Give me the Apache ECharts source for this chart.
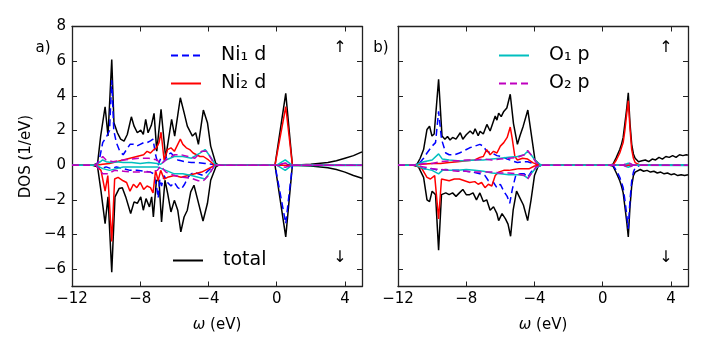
<!DOCTYPE html>
<html>
<head>
<meta charset="utf-8">
<title>DOS</title>
<script src="https://cdn.jsdelivr.net/npm/echarts@6/dist/echarts.min.js"></script>
<style>
  body { margin: 0; background: #fff; }
  #chart { width: 706px; height: 353px; }
</style>
</head>
<body>
<div id="chart"></div>
<script type="text/javascript">
// 刻度
var xTicks = [-12, -8, -4, 0, 4];
var yTicks = [-6, -4, -2, 0, 2, 4, 6, 8];

// a) 左图: Ni d 与 total
var aTotalUp = [[-12,0],[-10.8,0],[-10.5,0.1],[-10.32,1.68],[-10.06,3.37],[-9.89,1.68],[-9.67,6.1],[-9.54,2.45],[-9.34,1.87],[-9.15,1.5],[-8.95,1.39],[-8.76,1.77],[-8.52,2.79],[-8.36,2.25],[-8.17,1.87],[-7.97,2.02],[-7.82,1.77],[-7.68,2.64],[-7.54,1.87],[-7.35,2.3],[-7.19,2.99],[-7.03,0.81],[-6.78,3.22],[-6.51,0.42],[-6.16,2.64],[-5.98,1.68],[-5.65,3.89],[-5.43,3.03],[-5.24,2.25],[-4.94,1.68],[-4.75,1.87],[-4.59,1.2],[-4.3,3.18],[-4.06,2.45],[-3.87,1.1],[-3.57,0.1],[-3.4,0],[-0.1,0],[0.53,4.14],[0.92,0],[2,0.05],[3,0.15],[3.5,0.25],[4,0.4],[4.5,0.55],[5,0.77]];
var aTotalDn = [[-12,0],[-10.8,0],[-10.5,-0.1],[-10.3,-1.5],[-10.06,-3.37],[-9.89,-1.83],[-9.67,-6.17],[-9.48,-1.83],[-9.24,-1.35],[-9.05,-1.3],[-8.85,-1.83],[-8.56,-2.79],[-8.36,-2.12],[-8.17,-2.2],[-7.97,-1.83],[-7.82,-2.6],[-7.66,-1.93],[-7.46,-2.41],[-7.33,-1.83],[-7.23,-2.99],[-7.05,-0.87],[-6.9,-0.9],[-6.75,-3.28],[-6.55,-0.87],[-6.39,-1.64],[-6.2,-2.7],[-6.0,-2.03],[-5.8,-2.6],[-5.62,-3.85],[-5.43,-2.99],[-5.24,-2.6],[-5.04,-1.54],[-4.85,-1.16],[-4.65,-1.93],[-4.32,-3.22],[-4.06,-2.2],[-3.87,-0.87],[-3.57,-0.1],[-3.4,0],[-0.1,0],[0.53,-4.14],[0.92,0],[2,-0.05],[3,-0.15],[3.5,-0.25],[4,-0.4],[4.5,-0.6],[5,-0.75]];
var aNi1Up = [[-12,0],[-10.6,0],[-10.4,0.3],[-10.2,1.3],[-10.0,1.6],[-9.8,2.0],[-9.67,4.9],[-9.55,2.0],[-9.4,1.3],[-9.2,0.8],[-9.0,0.6],[-8.8,0.9],[-8.6,1.2],[-8.4,1.2],[-8.2,1.1],[-8.0,1.2],[-7.8,1.3],[-7.6,1.3],[-7.4,1.4],[-7.25,1.5],[-7.1,0.6],[-6.95,0.0],[-6.8,0.4],[-6.6,0.2],[-6.4,0.6],[-6.2,0.7],[-6.0,0.5],[-5.8,0.3],[-5.6,0.25],[-5.4,0.2],[-5.0,0.15],[-4.6,0.15],[-4.2,0.1],[-3.8,0.05],[-3.6,0],[0,0],[0.53,0.05],[1,0],[5,0]];
var aNi1Dn = [[-12,0],[-10.6,0],[-10.3,-0.2],[-10.0,-0.1],[-9.7,-0.2],[-9.4,-0.1],[-9.0,-0.2],[-8.6,-0.3],[-8.2,-0.3],[-7.8,-0.35],[-7.4,-0.4],[-7.2,-0.5],[-7.05,-1.2],[-6.95,-1.9],[-6.85,-0.8],[-6.75,-1.2],[-6.6,-0.6],[-6.4,-1.0],[-6.2,-1.2],[-6.0,-1.0],[-5.8,-1.3],[-5.6,-1.4],[-5.4,-1.1],[-5.2,-0.7],[-5.0,-0.5],[-4.8,-0.4],[-4.6,-0.5],[-4.3,-0.6],[-4.0,-0.3],[-3.7,-0.05],[-3.5,0],[-0.1,0],[0.53,-3.37],[0.92,0],[5,0]];
var aNi2Up = [[-12,0],[-10.6,0],[-10.2,0.05],[-9.8,0.1],[-9.4,0.2],[-9.0,0.3],[-8.6,0.4],[-8.2,0.5],[-7.8,0.6],[-7.6,0.8],[-7.4,0.7],[-7.2,0.9],[-7.05,1.0],[-6.9,1.3],[-6.78,1.9],[-6.6,0.3],[-6.4,0.9],[-6.2,1.0],[-6.0,0.8],[-5.8,1.2],[-5.65,1.5],[-5.5,1.2],[-5.3,1.0],[-5.1,0.9],[-4.9,0.7],[-4.7,0.6],[-4.5,0.5],[-4.3,0.5],[-4.0,0.3],[-3.7,0.05],[-3.5,0],[-0.1,0],[0.53,3.37],[0.92,0],[5,0]];
var aNi2Dn = [[-12,0],[-10.6,0],[-10.3,-0.3],[-10.06,-1.5],[-9.9,-0.6],[-9.67,-4.4],[-9.5,-0.8],[-9.3,-0.7],[-9.0,-0.9],[-8.8,-1.0],[-8.6,-1.5],[-8.4,-1.1],[-8.2,-1.3],[-8.0,-1.0],[-7.8,-1.4],[-7.6,-1.2],[-7.4,-1.3],[-7.25,-1.6],[-7.1,-0.3],[-6.95,-0.9],[-6.8,-0.3],[-6.6,-0.8],[-6.4,-0.7],[-6.0,-0.6],[-5.6,-0.7],[-5.2,-0.6],[-4.8,-0.5],[-4.4,-0.4],[-4.0,-0.2],[-3.7,-0.05],[-3.5,0],[5,0]];
var aO1Up = [[-12,0],[-10.6,0],[-10.2,0.3],[-10,0.2],[-9.7,0.15],[-9.4,0.2],[-9,0.15],[-8.5,0.15],[-8,0.1],[-7.5,0.15],[-7,0.1],[-6.8,0.05],[-6.5,0.3],[-6,0.5],[-5.5,0.5],[-5,0.4],[-4.5,0.7],[-4.2,0.9],[-3.9,0.5],[-3.6,0.05],[-3.4,0],[0,0],[0.5,0.3],[0.9,0],[5,0.02]];
var aO1Dn = [[-12,0],[-10.6,0],[-10.2,-0.2],[-9.8,-0.3],[-9.4,-0.2],[-9,-0.1],[-8,-0.1],[-7,-0.1],[-6.5,-0.3],[-6,-0.5],[-5.5,-0.5],[-5,-0.6],[-4.6,-0.7],[-4.2,-0.8],[-3.9,-0.4],[-3.6,0],[0,0],[0.5,-0.3],[0.9,0],[5,-0.02]];
var aO2Up = [[-12,0],[-10.6,0],[-10.2,0.5],[-10,0.3],[-9.6,0.2],[-9,0.3],[-8.5,0.35],[-8,0.4],[-7.5,0.4],[-7,0.3],[-6.8,0.05],[-6.5,0.3],[-6,0.6],[-5.6,0.6],[-5.2,0.5],[-4.8,0.4],[-4.4,0.8],[-4.1,0.8],[-3.8,0.3],[-3.6,0],[0,0],[0.5,0.12],[0.9,0],[5,0]];
var aO2Dn = [[-12,0],[-10.6,0],[-10.2,-0.5],[-9.9,-0.5],[-9.5,-0.3],[-9,-0.35],[-8.5,-0.4],[-8,-0.4],[-7.5,-0.4],[-7,-0.3],[-6.8,-0.05],[-6.5,-0.4],[-6,-0.6],[-5.5,-0.7],[-5,-0.75],[-4.6,-0.9],[-4.3,-0.9],[-4,-0.6],[-3.7,-0.1],[-3.5,0],[0,0],[0.5,-0.12],[0.9,0],[5,0]];

// b) 右图: O p
var bTotalUp = [[-12,0],[-11.1,0],[-10.89,0.05],[-10.7,0.4],[-10.5,0.9],[-10.3,2.06],[-10.15,2.25],[-10.01,1.68],[-9.88,1.8],[-9.62,4.95],[-9.42,1.68],[-9.25,1.5],[-9.1,1.65],[-8.95,1.45],[-8.8,1.6],[-8.6,1.5],[-8.35,1.87],[-8.2,1.5],[-8.0,1.75],[-7.77,1.97],[-7.6,1.8],[-7.48,2.1],[-7.3,1.7],[-7.19,1.95],[-7.0,1.8],[-6.79,2.35],[-6.6,1.97],[-6.45,2.4],[-6.3,2.83],[-6.2,2.6],[-6.1,3.0],[-5.95,2.8],[-5.8,3.1],[-5.62,3.3],[-5.42,4.09],[-5.23,2.4],[-5.0,1.2],[-4.85,1.7],[-4.66,2.25],[-4.39,3.18],[-4.16,1.6],[-3.97,0.3],[-3.68,0.02],[-3.4,0],[0.4,0],[0.6,0.05],[0.8,0.45],[1.0,0.9],[1.1,1.2],[1.2,1.6],[1.3,2.4],[1.4,3.2],[1.5,4.18],[1.6,2.4],[1.7,1.2],[1.8,0.65],[1.9,0.4],[2.0,0.3],[2.1,0.2],[2.3,0.25],[2.5,0.3],[2.7,0.2],[2.9,0.35],[3.1,0.3],[3.3,0.45],[3.5,0.35],[3.7,0.5],[3.9,0.45],[4.1,0.55],[4.3,0.45],[4.5,0.6],[4.7,0.55],[4.9,0.6],[5.0,0.58]];
var bTotalDn = [[-12,0],[-11.1,0],[-10.8,-0.1],[-10.5,-0.7],[-10.3,-2.0],[-10.15,-2.1],[-10.0,-1.5],[-9.8,-1.7],[-9.62,-4.9],[-9.45,-1.7],[-9.2,-1.6],[-9.0,-1.7],[-8.8,-1.6],[-8.6,-1.8],[-8.4,-1.6],[-8.2,-1.4],[-8.0,-1.7],[-7.8,-1.7],[-7.6,-1.6],[-7.4,-2.0],[-7.2,-1.6],[-7.0,-2.1],[-6.8,-2.0],[-6.6,-2.6],[-6.4,-2.4],[-6.2,-2.8],[-6.1,-3.2],[-5.9,-2.8],[-5.7,-3.1],[-5.55,-3.4],[-5.4,-4.1],[-5.25,-2.6],[-5.05,-1.5],[-4.85,-1.9],[-4.65,-2.3],[-4.4,-3.2],[-4.2,-2.0],[-4.0,-0.6],[-3.8,-0.1],[-3.6,0],[0.4,0],[0.6,-0.05],[0.8,-0.45],[1.0,-0.9],[1.1,-1.2],[1.2,-1.6],[1.3,-2.4],[1.4,-3.2],[1.5,-4.14],[1.6,-2.4],[1.7,-1.2],[1.8,-0.6],[1.9,-0.4],[2.0,-0.3],[2.2,-0.25],[2.4,-0.35],[2.6,-0.3],[2.8,-0.4],[3.0,-0.35],[3.2,-0.45],[3.4,-0.4],[3.6,-0.5],[3.8,-0.45],[4.0,-0.55],[4.2,-0.5],[4.4,-0.6],[4.6,-0.55],[4.8,-0.6],[5.0,-0.55]];
var bNi1Up = [[-12,0],[-11,0],[-10.8,0.05],[-10.5,0.4],[-10.3,0.7],[-10.0,1.1],[-9.8,1.3],[-9.62,3.1],[-9.45,1.5],[-9.2,0.7],[-9.0,0.6],[-8.7,0.6],[-8.4,0.7],[-8.1,0.85],[-7.8,1.0],[-7.5,1.1],[-7.2,1.2],[-7.0,1.1],[-6.8,0.8],[-6.5,0.7],[-6.2,0.55],[-5.9,0.5],[-5.6,0.35],[-5.3,0.25],[-5.0,0.15],[-4.7,0.2],[-4.4,0.2],[-4.1,0.1],[-3.8,0.02],[-3.6,0],[5,0]];
var bNi1Dn = [[-12,0],[-11,0],[-10.5,-0.2],[-10,-0.2],[-9.62,-0.3],[-9.2,-0.25],[-8.8,-0.3],[-8.4,-0.3],[-8,-0.35],[-7.6,-0.4],[-7.2,-0.5],[-6.9,-0.6],[-6.7,-0.9],[-6.4,-1.0],[-6.2,-1.3],[-6.0,-1.1],[-5.8,-1.5],[-5.6,-1.8],[-5.45,-2.2],[-5.3,-1.4],[-5.1,-0.6],[-4.9,-0.5],[-4.6,-0.5],[-4.4,-0.7],[-4.2,-0.4],[-3.9,-0.1],[-3.6,0],[0.6,0],[0.8,-0.3],[1.0,-0.7],[1.2,-1.3],[1.3,-2.0],[1.4,-2.8],[1.5,-3.66],[1.6,-2.0],[1.7,-0.9],[1.8,-0.4],[1.9,-0.15],[2.0,-0.05],[2.2,0],[5,0]];
var bNi2Up = [[-12,0],[-11,0],[-10.6,0.05],[-10,0.1],[-9.5,0.1],[-9,0.15],[-8.5,0.2],[-8,0.25],[-7.5,0.3],[-7.2,0.45],[-7.0,0.5],[-6.8,0.9],[-6.6,0.6],[-6.4,0.8],[-6.2,0.7],[-6.0,1.1],[-5.8,1.3],[-5.6,1.6],[-5.42,2.2],[-5.3,1.5],[-5.15,0.5],[-5.0,0.3],[-4.7,0.4],[-4.4,0.35],[-4.1,0.15],[-3.8,0.02],[-3.6,0],[0.6,0],[0.8,0.3],[1.0,0.7],[1.2,1.3],[1.3,2.0],[1.4,2.9],[1.5,3.72],[1.6,2.1],[1.7,0.9],[1.8,0.4],[1.9,0.15],[2.0,0.05],[2.2,0],[5,0]];
var bNi2Dn = [[-12,0],[-11,0],[-10.6,-0.2],[-10.3,-0.7],[-10.1,-0.8],[-9.85,-0.6],[-9.62,-3.1],[-9.45,-0.8],[-9.2,-0.85],[-9.0,-0.9],[-8.7,-0.8],[-8.4,-0.8],[-8.1,-0.9],[-7.8,-1.0],[-7.5,-0.95],[-7.3,-1.1],[-7.1,-1.0],[-6.9,-1.3],[-6.7,-1.1],[-6.5,-1.2],[-6.3,-0.6],[-6.1,-0.4],[-5.8,-0.3],[-5.5,-0.3],[-5.2,-0.25],[-4.9,-0.2],[-4.6,-0.2],[-4.3,-0.2],[-4.0,-0.05],[-3.6,0],[5,0]];
var bO1Up = [[-12,0],[-11,0],[-10.5,0.2],[-10,0.3],[-9.62,0.65],[-9.4,0.35],[-9,0.3],[-8.5,0.25],[-8,0.25],[-7.5,0.3],[-7,0.3],[-6.5,0.35],[-6,0.4],[-5.5,0.45],[-5.0,0.5],[-4.6,0.6],[-4.4,0.8],[-4.2,0.6],[-3.9,0.2],[-3.6,0],[1.2,0],[1.5,0.12],[1.8,0],[5,0.02]];
var bO1Dn = [[-12,0],[-11,0],[-10.5,-0.2],[-10,-0.3],[-9.62,-0.5],[-9.4,-0.3],[-9,-0.3],[-8.5,-0.3],[-8,-0.25],[-7.5,-0.3],[-7,-0.35],[-6.5,-0.45],[-6,-0.5],[-5.5,-0.55],[-5.0,-0.55],[-4.6,-0.6],[-4.4,-0.75],[-4.2,-0.5],[-3.9,-0.15],[-3.6,0],[1.2,0],[1.5,-0.12],[1.8,0],[5,-0.02]];
var bO2Up = [[-12,0],[-11,0],[-10.5,0.1],[-10,0.1],[-9.5,0.2],[-9,0.25],[-8.5,0.25],[-8,0.3],[-7.5,0.3],[-7,0.35],[-6.5,0.3],[-6,0.35],[-5.5,0.4],[-5.0,0.45],[-4.6,0.6],[-4.4,0.85],[-4.2,0.6],[-3.9,0.15],[-3.6,0],[1.2,0],[1.5,0.15],[1.8,0],[5,0]];
var bO2Dn = [[-12,0],[-11,0],[-10.5,-0.1],[-10,-0.2],[-9.5,-0.25],[-9,-0.3],[-8.5,-0.35],[-8,-0.35],[-7.5,-0.4],[-7,-0.4],[-6.5,-0.4],[-6,-0.45],[-5.5,-0.45],[-5.0,-0.5],[-4.6,-0.6],[-4.4,-0.8],[-4.2,-0.5],[-3.9,-0.1],[-3.6,0],[1.2,0],[1.5,-0.15],[1.8,0],[5,0]];

var FONT = 'DejaVu Sans';
var minus = function (v) { return String(v).replace('-', '\u2212'); };

function line(name, data, idx, color, dashed) {
  return {
    name: name, type: 'line', data: data,
    xAxisIndex: idx * 2, yAxisIndex: idx * 2,
    symbol: 'none', showSymbol: false, animation: false, silent: true,
    lineStyle: { width: 1.5, color: color, type: dashed ? [7, 4] : 'solid' },
    itemStyle: { color: color }
  };
}

function xAxes(g) {
  var base = {
    gridIndex: g, type: 'value', min: -12, max: 5, interval: 4,
    splitLine: { show: false },
    axisLine: { onZero: false, lineStyle: { color: '#222', width: 1.3 } },
    axisTick: { inside: true, length: 5, customValues: xTicks, lineStyle: { color: '#222' } }
  };
  return [
    Object.assign({}, base, {
      position: 'bottom',
      name: '{i|ω} (eV)', nameLocation: 'middle', nameGap: 31,
      nameTextStyle: { fontFamily: FONT, fontSize: 15, color: '#000',
        rich: { i: { fontFamily: FONT, fontStyle: 'italic', fontSize: 15, color: '#000' } } },
      axisLabel: { margin: 5, customValues: xTicks, fontFamily: FONT, fontSize: 15, color: '#000', formatter: minus }
    }),
    Object.assign({}, base, { position: 'top', axisLabel: { show: false } })
  ];
}

function yAxes(g, labels) {
  var base = {
    gridIndex: g, type: 'value', min: -7, max: 8,
    splitLine: { show: false },
    axisLine: { onZero: false, lineStyle: { color: '#222', width: 1.3 } },
    axisTick: { inside: true, length: 5, customValues: yTicks, lineStyle: { color: '#222' } }
  };
  var left = Object.assign({}, base, {
    position: 'left',
    axisLabel: { show: labels, customValues: yTicks, margin: 6, fontFamily: FONT, fontSize: 15, color: '#000', formatter: minus }
  });
  if (labels) {
    left.name = 'DOS (1/eV)';
    left.nameLocation = 'middle';
    left.nameGap = 38;
    left.nameTextStyle = { fontFamily: FONT, fontSize: 15, color: '#000' };
  }
  var right = Object.assign({}, base, { position: 'right', axisLabel: { show: false } });
  return [left, right];
}

var series = [];
var panels = [
  [aTotalUp, aTotalDn, aNi1Up, aNi1Dn, aNi2Up, aNi2Dn, aO1Up, aO1Dn, aO2Up, aO2Dn],
  [bTotalUp, bTotalDn, bNi1Up, bNi1Dn, bNi2Up, bNi2Dn, bO1Up, bO1Dn, bO2Up, bO2Dn]
];
panels.forEach(function (p, i) {
  series.push(line('total', p[0], i, '#000000', false));
  series.push(line('total', p[1], i, '#000000', false));
  series.push(line('Ni\u2081 d', p[2], i, '#0000ff', true));
  series.push(line('Ni\u2081 d', p[3], i, '#0000ff', true));
  series.push(line('Ni\u2082 d', p[4], i, '#ff0000', false));
  series.push(line('Ni\u2082 d', p[5], i, '#ff0000', false));
  series.push(line('O\u2081 p', p[6], i, '#00bfbf', false));
  series.push(line('O\u2081 p', p[7], i, '#00bfbf', false));
  series.push(line('O\u2082 p', p[8], i, '#bf00bf', true));
  series.push(line('O\u2082 p', p[9], i, '#bf00bf', true));
});

function legend(names, left, top) {
  return {
    data: names, left: left, top: top, orient: 'vertical',
    itemWidth: 30, itemHeight: 20, itemGap: 9, selectedMode: false,
    itemStyle: { color: 'rgba(0,0,0,0)', borderWidth: 0, opacity: 0 },
    textStyle: { fontFamily: FONT, fontSize: 19, color: '#000', padding: [0, 0, 0, 15] }
  };
}

function txt(x, y, s, size) {
  return { type: 'text', x: x, y: y, style: { text: s, fontFamily: FONT, fontSize: size || 15, fill: '#000', align: 'center', verticalAlign: 'middle' } };
}

var myChart = echarts.init(document.getElementById('chart'));
myChart.setOption({
  animation: false,
  grid: [
    { left: 72, top: 26.5, width: 290, height: 260 },
    { left: 398, top: 26.5, width: 290, height: 260 }
  ],
  xAxis: xAxes(0).concat(xAxes(1)),
  yAxis: yAxes(0, true).concat(yAxes(1, false)),
  legend: [
    legend(['Ni\u2081 d', 'Ni\u2082 d'], 165, 41),
    legend(['total'], 167, 246),
    legend(['O\u2081 p', 'O\u2082 p'], 493, 41)
  ],
  graphic: [
    txt(43, 48, 'a)'), txt(381, 48, 'b)'),
    txt(340, 48, '\u2191', 16), txt(340, 258, '\u2193', 16),
    txt(666, 48, '\u2191', 16), txt(666, 258, '\u2193', 16)
  ],
  series: series
});
</script>
</body>
</html>
